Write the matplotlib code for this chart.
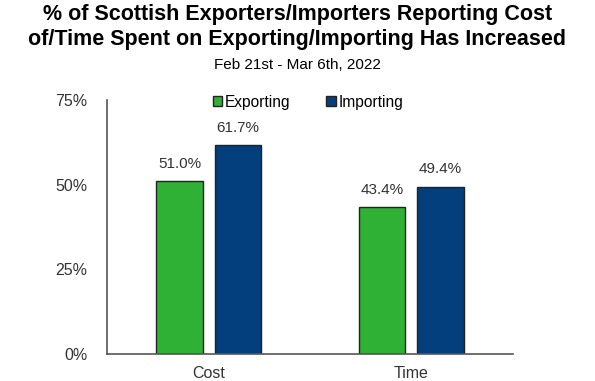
import matplotlib.pyplot as plt
import numpy as np

plt.rcParams['font.family'] = ['Liberation Sans', 'DejaVu Sans']

categories = ['Cost', 'Time']
series = ['Exporting', 'Importing']
exporting = [51.0, 43.4]
importing = [61.7, 49.4]
colors = ['#2eb135', '#033f7d']

fig = plt.figure(figsize=(5.95, 3.81), dpi=100)
ax = fig.add_axes([0.18, 0.071, 0.682, 0.667])

x = np.arange(len(categories))
w = 0.228
off = 0.1436
for vals, name, col, d in zip([exporting, importing], series, colors, [-off, off]):
    bars = ax.bar(x + d, vals, w, color=col, edgecolor='#222222', linewidth=1, label=name)
    for b, v in zip(bars, vals):
        ax.text(b.get_x() + b.get_width() / 2, v + 3, f'{v:.1f}%', ha='center', va='bottom',
                fontsize=11, color='#333333')

ax.set_xlim(-0.5, 1.5)
ax.set_ylim(0, 75)
ax.set_yticks([0, 25, 50, 75])
ax.set_yticklabels(['0%', '25%', '50%', '75%'])
ax.set_xticks(x)
ax.set_xticklabels(categories)
ax.tick_params(length=0, labelsize=11.5, colors='#333333')
ax.tick_params(axis='y', pad=14)
ax.tick_params(axis='x', pad=9)
for s in ['top', 'right']:
    ax.spines[s].set_visible(False)
for s in ['left', 'bottom']:
    ax.spines[s].set_color('#555555')
    ax.spines[s].set_linewidth(1.2)

ax.legend(loc='upper center', bbox_to_anchor=(0.495, 1.075), ncol=2, frameon=False,
          fontsize=11.2, handlelength=0.6, handleheight=0.6, handletextpad=0.2,
          columnspacing=2.3)

fig.text(0.5, 0.99, '% of Scottish Exporters/Importers Reporting Cost\nof/Time Spent on Exporting/Importing Has Increased',
         ha='center', va='top', fontsize=15.5, fontweight='bold', linespacing=1.25)
fig.text(0.5, 0.83, 'Feb 21st - Mar 6th, 2022', ha='center', va='center', fontsize=11)

fig.savefig('out.png', dpi=100)
